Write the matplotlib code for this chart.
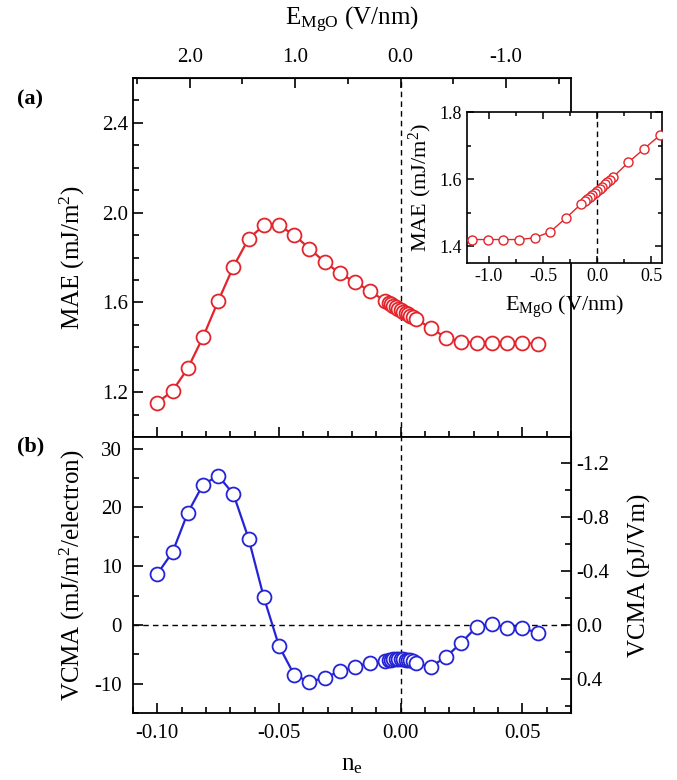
import matplotlib
matplotlib.use('agg')
import matplotlib.pyplot as plt
from matplotlib.ticker import MultipleLocator, FormatStrFormatter

plt.rcParams['font.family'] = ['Liberation Serif', 'DejaVu Serif']
plt.rcParams['mathtext.fontset'] = 'custom'
plt.rcParams['mathtext.rm'] = 'Liberation Serif'
plt.rcParams['mathtext.it'] = 'Liberation Serif:italic'
plt.rcParams['axes.unicode_minus'] = False

# electron doping per cell (n_e)
n_e = [-0.1, -0.09375, -0.0875, -0.08125, -0.075, -0.06875, -0.0625, -0.05625,
       -0.05, -0.04375, -0.0375, -0.03125, -0.025, -0.01875, -0.0125,
       -0.00625, -0.005, -0.004, -0.003, -0.002, -0.001, 0.0,
       0.001, 0.002, 0.003, 0.004, 0.005, 0.00625,
       0.0125, 0.01875, 0.025, 0.03125, 0.0375, 0.04375, 0.05, 0.05625]
# MAE (mJ/m^2)
mae = [1.153, 1.206, 1.306, 1.445, 1.606, 1.759, 1.884, 1.943,
       1.943, 1.90, 1.84, 1.78, 1.73, 1.69, 1.65,
       1.605, 1.598, 1.591, 1.585, 1.578, 1.572, 1.566,
       1.559, 1.553, 1.547, 1.540, 1.534, 1.527,
       1.484, 1.443, 1.425, 1.42, 1.42, 1.42, 1.42, 1.415]
# VCMA (mJ/m^2/electron)
vcma = [8.7, 12.4, 19.1, 23.9, 25.4, 22.3, 14.7, 4.7,
        -3.6, -8.5, -9.7, -9.0, -7.9, -7.1, -6.4,
        -6.2, -6.0, -5.9, -5.8, -5.8, -5.8, -5.8,
        -5.8, -5.9, -5.9, -6.0, -6.1, -6.5,
        -7.1, -5.4, -3.0, -0.3, 0.2, -0.5, -0.6, -1.3]

E_PER_NE = -23.07      # E_MgO (V/nm) per unit n_e
PJ_PER_MJ = -0.0435    # VCMA pJ/Vm per mJ/m^2/electron

red = '#e3242b'
blue = '#2424d6'

fig = plt.figure(figsize=(6.77, 7.8), dpi=100)
ax_a = fig.add_axes([0.1965, 0.4397, 0.6469, 0.4603])
ax_b = fig.add_axes([0.1965, 0.0859, 0.6469, 0.3538])

tick_kw = dict(direction='in', labelsize=15, width=1.2)

# ---- (a) MAE
ax_a.plot(n_e, mae, '-o', color=red, lw=1.6, ms=10, mfc='white', mec=red, mew=1.3, zorder=3)
ax_a.axvline(0, color='black', ls='--', lw=1.0, dashes=(4, 3), zorder=1)
ax_a.set_xlim(-0.11, 0.07)
ax_a.set_ylim(1.0, 2.6)
ax_a.yaxis.set_minor_locator(MultipleLocator(0.1))
ax_a.yaxis.set_major_formatter(FormatStrFormatter('%.1f'))
ax_a.yaxis.set_ticks([1.2, 1.6, 2.0, 2.4])
ax_a.xaxis.set_major_locator(MultipleLocator(0.05))
ax_a.xaxis.set_minor_locator(MultipleLocator(0.01))
ax_a.tick_params(axis='both', which='major', length=7, **tick_kw)
ax_a.tick_params(axis='both', which='minor', length=4, direction='in', width=1.2)
ax_a.tick_params(axis='x', labelbottom=False)
ax_a.set_ylabel(r'MAE (mJ/m$^{\mathregular{2}}$)', fontsize=18)
ax_a.yaxis.set_label_coords(-0.105, 0.5)

top = ax_a.secondary_xaxis('top', functions=(lambda n: n * E_PER_NE, lambda e: e / E_PER_NE))
top.set_xticks([2.0, 1.0, 0.0, -1.0])
top.xaxis.set_minor_locator(MultipleLocator(0.5))
top.xaxis.set_major_formatter(FormatStrFormatter('%.1f'))
top.tick_params(axis='x', which='major', length=7, pad=8, **tick_kw)
top.tick_params(axis='x', which='minor', length=4, direction='in', width=1.2)
top.set_xlabel(r'E$_{\mathregular{MgO}}$ (V/nm)', fontsize=18, labelpad=16)

# ---- (b) VCMA
ax_b.plot(n_e, vcma, '-o', color=blue, lw=1.6, ms=10, mfc='white', mec=blue, mew=1.3, zorder=3)
ax_b.axvline(0, color='black', ls='--', lw=1.0, dashes=(4, 3), zorder=1)
ax_b.axhline(0, color='black', ls='--', lw=1.0, dashes=(4, 3), zorder=1)
ax_b.set_xlim(-0.11, 0.07)
ax_b.set_ylim(-15, 32)
ax_b.set_yticks([-10, 0, 10, 20, 30])
ax_b.yaxis.set_minor_locator(MultipleLocator(5))
ax_b.set_xticks([-0.10, -0.05, 0.0, 0.05])
ax_b.xaxis.set_major_formatter(FormatStrFormatter('%.2f'))
ax_b.xaxis.set_minor_locator(MultipleLocator(0.01))
ax_b.tick_params(axis='both', which='major', length=7, pad=8, **tick_kw)
ax_b.tick_params(axis='both', which='minor', length=4, direction='in', width=1.2)
ax_b.set_ylabel(r'VCMA (mJ/m$^{\mathregular{2}}$/electron)', fontsize=18)
ax_b.yaxis.set_label_coords(-0.105, 0.5)
ax_b.set_xlabel(r'n$_{\mathregular{e}}$', fontsize=18, labelpad=8)

right = ax_b.secondary_yaxis('right', functions=(lambda v: v * PJ_PER_MJ, lambda r: r / PJ_PER_MJ))
right.set_yticks([-1.2, -0.8, -0.4, 0.0, 0.4])
right.yaxis.set_minor_locator(MultipleLocator(0.2))
right.yaxis.set_major_formatter(FormatStrFormatter('%.1f'))
right.tick_params(axis='y', which='major', length=7, **tick_kw)
right.tick_params(axis='y', which='minor', length=4, direction='in', width=1.2)
right.set_ylabel('VCMA (pJ/Vm)', fontsize=18, labelpad=14)

for ax in (ax_a, ax_b):
    for s in ax.spines.values():
        s.set_linewidth(1.3)

# ---- inset: MAE vs E_MgO
ins = fig.add_axes([0.690, 0.6628, 0.288, 0.1936])
e_field = [n * E_PER_NE for n in n_e]
ins.plot(e_field, mae, '-o', color=red, lw=1.0, ms=6.5, mfc='white', mec=red, mew=1.0, zorder=3)
ins.axvline(0, color='black', ls='--', lw=1.0, dashes=(4, 3), zorder=1)
ins.set_xlim(-1.2, 0.6)
ins.set_ylim(1.35, 1.8)
ins.set_xticks([-1.0, -0.5, 0.0, 0.5])
ins.xaxis.set_minor_locator(MultipleLocator(0.25))
ins.set_yticks([1.4, 1.6, 1.8])
ins.yaxis.set_minor_locator(MultipleLocator(0.1))
ins.xaxis.set_major_formatter(FormatStrFormatter('%.1f'))
ins.yaxis.set_major_formatter(FormatStrFormatter('%.1f'))
ins.tick_params(axis='both', which='major', length=5, direction='in', labelsize=13, width=1.1, top=True, right=True)
ins.tick_params(axis='both', which='minor', length=3, direction='in', width=1.1, top=True, right=True)
ins.set_xlabel(r'E$_{\mathregular{MgO}}$ (V/nm)', fontsize=16, labelpad=6)
ins.set_ylabel(r'MAE (mJ/m$^{\mathregular{2}}$)', fontsize=16, labelpad=4)
for s in ins.spines.values():
    s.set_linewidth(1.2)

fig.text(0.045, 0.872, '(a)', fontsize=16, fontweight='bold', ha='center', va='center')
fig.text(0.045, 0.427, '(b)', fontsize=16, fontweight='bold', ha='center', va='center')

fig.savefig('out.png', dpi=100)
